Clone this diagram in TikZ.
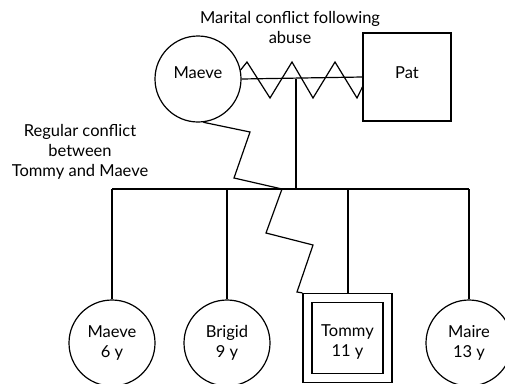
\documentclass[tikz,border=0pt]{standalone}
\usepackage{fontspec}
\setmainfont{Lato}
\usetikzlibrary{calc}
\begin{document}
\begin{tikzpicture}[x=1pt,y=-1pt,line width=1.2pt,
  txt/.style={font=\fontsize{16.5}{20}\selectfont,align=center},
  female/.style={circle,draw,minimum size=86pt,inner sep=0pt},
  male/.style={rectangle,draw,minimum size=88pt,inner sep=0pt},
  lbl/.style={txt,inner sep=0pt}]
\clip (0,0) rectangle (505,383);
\fill[white] (0,0) rectangle (505,383);
% parents
\node[female,label={[lbl,yshift=6pt]center:Maeve}] (mom) at (198,79) {};
\node[male,label={[lbl,yshift=4pt]center:Pat}] (pat) at (407,77) {};
% children
\node[female,label={[lbl]center:Maeve\\6 y}] (k1) at (112,343) {};
\node[female,label={[lbl]center:Brigid\\9 y}] (k2) at (227,343) {};
\node[male,minimum size=89pt,label={[lbl,yshift=-4pt]center:Tommy\\11 y}] (k3) at (347.5,338) {};
\node[draw,rectangle,minimum size=71pt,inner sep=0pt] (k3in) at (k3.center) {};
\node[female,label={[lbl]center:Maire\\13 y}] (k4) at (469,343) {};
% labels
\node[lbl] (marital) at (290,27) {Marital conflict following\\abuse};
\node[lbl] (regular) at (80,152) {Regular conflict\\between\\Tommy and Maeve};
% marriage line and conflict zigzag
\draw (mom.east) -- (pat.west);
\draw[line join=miter] (mom.12) -- (247,62) -- (270,98) -- (292,62) -- (313,98) -- (335,62) -- (357,98) -- ($(pat.west)+(0,10)$);
% descent
\coordinate (mid) at (296,79);
\coordinate (sib) at (296,189);
\draw (mid) -- (sib);
\draw (k1.north |- sib) -- (k4.north |- sib);
\draw (k1.north) -- (k1.north |- sib);
\draw (k2.north) -- (k2.north |- sib);
\draw (k3.north -| 348,0) -- (348,189);
\draw (k4.north) -- (k4.north |- sib);
% Tommy - Maeve conflict
\draw[line join=miter] (mom.-83) -- (250,132) -- (234,178) -- (282,189) -- (266,233) -- (313,245) -- (297,292) -- (k3.north west);
\end{tikzpicture}
\end{document}
